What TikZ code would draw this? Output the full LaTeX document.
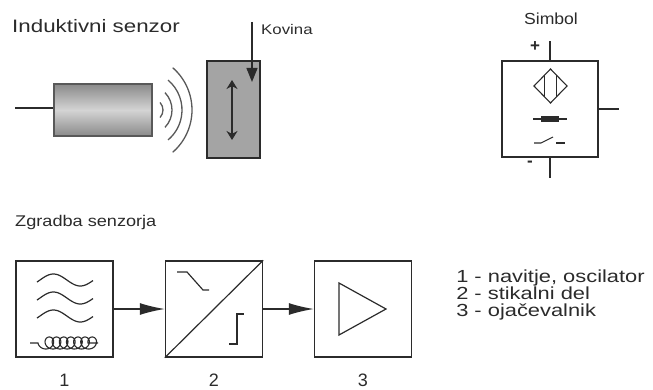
\documentclass[tikz,border=0pt]{standalone}
\usepackage{fontspec}
\setmainfont{Liberation Sans}
\usetikzlibrary{arrows.meta}

\definecolor{valjTemen}{HTML}{8A8A8A}
\definecolor{valjSvetel}{HTML}{D4D4D4}
\definecolor{plosca}{HTML}{A4A4A4}
\definecolor{crnilo}{HTML}{2B2B2B}

\begin{document}
\begin{tikzpicture}[x=1pt,y=-1pt,
    crta/.style={line width=1.3pt, draw=crnilo},
    blok/.style={draw=crnilo, line width=1.4pt, minimum width=97pt, minimum height=96pt, inner sep=0pt},
    napis/.style={anchor=base west, inner sep=0pt, text=crnilo},
    puscica/.style={crta, -{Latex[length=25pt,width=12pt]}}]

    \useasboundingbox (0,0) rectangle (653,390);

    % --- Sensor and metal (top left) ---
    \node[napis, font=\fontsize{18}{20}\selectfont, xscale=1.24] (naslov) at (12,33) {Induktivni senzor};

    % cable and cylinder body
    \draw[crta] (15,108) -- (54,108);
    \shade[top color=valjTemen, bottom color=valjTemen, middle color=valjSvetel] (54,84) rectangle (152,136);
    \draw[crta, draw=black!65] (54,84) rectangle (152,136);

    % field waves
    \foreach \r/\c/\a in {11/152/43, 25/147/44, 39/143/50, 56/136/49}
        \draw[crta, draw=black!65] ([shift={(-\a:\r)}]\c,110) arc (-\a:\a:\r);

    % metal plate with movement arrow
    \draw[crta, fill=plosca] (207,61) rectangle (260,158);
    \draw[{Stealth[length=9pt,width=11pt]}-{Stealth[length=9pt,width=11pt]}, line width=2.2pt, crnilo] (232,80) -- (232,140);

    \node[napis, font=\fontsize{14}{16}\selectfont, xscale=1.2] (kovina) at (261,35) {Kovina};
    \coordinate (kovinaVrh) at (252,22);
    \coordinate (kovinaKonec) at (252,82);
    \draw[crta, -{Triangle[length=14pt,width=11pt]}] (kovinaVrh) -- (kovinaKonec);

    % --- Symbol (top right) ---
    \node[napis, anchor=base, font=\fontsize{16}{18}\selectfont, xscale=1.1] (simbolNapis) at (551,25) {Simbol};
    \node[crta, draw, minimum size=96pt, inner sep=0pt] (simbol) at (550,109) {};
    \draw[crta] (simbol.north) -- ++(0,-19);
    \draw[crta] (simbol.south) -- ++(0,20);
    \draw[crta] (simbol.east) -- ++(20,0);
    \node[napis, anchor=center, font=\fontsize{17}{18}\selectfont\bfseries] (plus) at (535,47) {+};
    \node[napis, anchor=center, font=\fontsize{17}{18}\selectfont\bfseries] (minus) at (530,164) {-};

    % proximity diamond
    \draw[crta, line width=1.1pt] (534,86) -- (550.5,69) -- (567,86) -- (550.5,103) -- cycle;
    \draw[crta, line width=1.1pt] (544.5,75) -- (544.5,97);
    \draw[crta, line width=1.1pt] (556.5,75) -- (556.5,97);

    % resistor and switch
    \draw[crta, line width=1.1pt] (533,119) -- (567,119);
    \fill[crnilo] (541,116) rectangle (559,122);
    \draw[crta, line width=1.1pt] (534,143) -- (541,143) -- (553,137);
    \draw[crta, line width=1.1pt] (556,143) -- (565,143);

    % --- Block structure (bottom) ---
    \node[napis, font=\fontsize{15.5}{18}\selectfont, xscale=1.17] (zgradba) at (15,226) {Zgradba senzorja};

    \node[blok] (oscilator) at (64.5,309) {};
    \node[blok] (stikalo) at (214,309) {};
    \node[blok] (ojacevalnik) at (363,309) {};

    \draw[puscica] (oscilator) -- (stikalo);
    \draw[puscica] (stikalo) -- (ojacevalnik);

    % 1: waves and coil
    \foreach \yc in {280,298,316}
        \draw[crta, line width=1.2pt] plot[domain=-20:355, samples=60, variable=\t]
            ({37 + (\t+20)/375*56}, {\yc - 6*sin(\t)});
    \draw[crta, line width=1.1pt] (30,343) -- (38,343)
        -- plot[domain=90:2610, samples=400, variable=\t] ({38 + 6 + 1.137*(\t-90)*pi/180 - 6*sin(\t)}, {343 - 6*cos(\t)})
        -- (98,343);

    % 2: switching part
    \draw[crta, line width=1.2pt] (stikalo.south west) -- (stikalo.north east);
    \draw[crta, line width=1.2pt] (177,272) -- (187,272) -- (203,290) -- (209,290);
    \draw[crta, line width=1.2pt] (229,344) -- (237,344) -- (237,314) -- (244,314);

    % 3: amplifier
    \draw[crta, line width=1.2pt] (339,283) -- (386,309) -- (339,335) -- cycle;

    % numbers under blocks
    \foreach \n/\ime in {1/oscilator, 2/stikalo, 3/ojacevalnik}
        \node[napis, anchor=base, font=\fontsize{18}{18}\selectfont] (st\n) at (\ime.south |- 0,386) {\n};

    % --- Legend (anchored on the last line) ---
    \node[napis, font=\fontsize{17.5}{16.6}\selectfont, xscale=1.25, align=left] (legenda) at (456,316)
        {1 - navitje, oscilator\\2 - stikalni del\\3 - ojačevalnik};

\end{tikzpicture}
\end{document}
